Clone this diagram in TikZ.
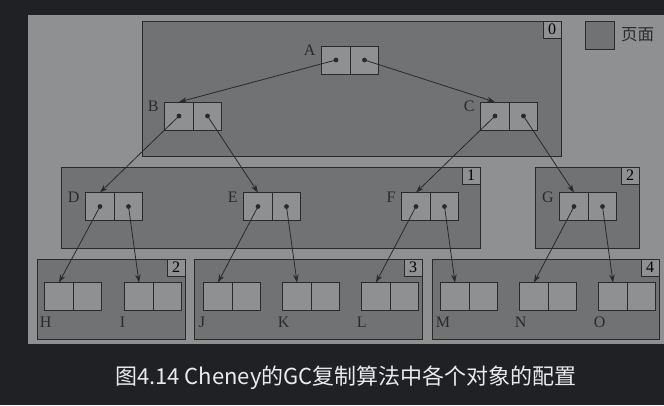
\documentclass[tikz,border=0pt]{standalone}
\usepackage{fontspec}
\setmainfont{Liberation Serif}
\newfontfamily\cjk{Noto Sans CJK SC}
\usetikzlibrary{positioning,arrows.meta}
\definecolor{screen}{HTML}{202124}
\definecolor{panel}{HTML}{8F9092}
\definecolor{pagefill}{HTML}{717273}
\definecolor{ink}{HTML}{2A2A2A}
\definecolor{captext}{HTML}{E8EAED}
\tikzset{
  cell/.style={draw=ink, fill=panel, line width=1pt, minimum width=28.5pt, minimum height=28pt, inner sep=0pt, outer sep=0pt},
  page/.style={draw=ink, fill=pagefill, line width=1pt},
  pagenum/.style={draw=ink, fill=panel, line width=1pt, minimum width=18pt, minimum height=17pt, inner sep=0pt, outer sep=0pt, font=\fontsize{16}{16}\selectfont},
  ptr/.style={ink, line width=0.8pt, -{Stealth[length=8pt,width=5.5pt]}},
  objlabel/.style={inner sep=0pt, text=ink, font=\fontsize{16}{16}\selectfont}
}

\begin{document}
\begin{tikzpicture}[x=1pt,y=-1pt]
	%Background
	\fill[screen] (0,0) rectangle (664,405);
	\fill[panel] (28,15) rectangle (664,344);
	\useasboundingbox (0,0) rectangle (664,405);

	%Pages
	\draw[page] (142,21) rectangle (561,156);
	\node[pagenum, anchor=north east] (page0) at (561,21) {0};
	\draw[page] (61,167) rectangle (480,248);
	\node[pagenum, anchor=north east] (page1) at (480,167) {1};
	\draw[page] (535,167) rectangle (639,248);
	\node[pagenum, anchor=north east] (page2a) at (639,167) {2};
	\draw[page] (37,259) rectangle (185,339);
	\node[pagenum, anchor=north east] (page2b) at (185,259) {2};
	\draw[page] (194,259) rectangle (422,339);
	\node[pagenum, anchor=north east] (page3) at (422,259) {3};
	\draw[page] (432,259) rectangle (659,339);
	\node[pagenum, anchor=north east] (page4) at (659,259) {4};

	%Legend
	\draw[page] (585,21) rectangle (614,49);
	\node[anchor=west, inner sep=0pt, text=ink, font=\cjk\fontsize{16.5}{16.5}\selectfont] (legend) at (621,35) {页面};

	%Objects
	\foreach \n/\x/\y in {A/336/60, B/179/116, C/495/116, D/100/206.5, E/258/206.5, F/416/206.5, G/574/206.5}
	{
		\node[cell] (\n-l) at (\x,\y) {};
		\node[cell, right=0pt of \n-l] (\n-r) {};
		\node[objlabel, anchor=base east] at ([xshift=-6pt, yshift=-9.5pt]\n-l.north west) {\n};
	}
	\foreach \n/\x in {H/59, I/139, J/218, K/297, L/376, M/455, N/534, O/613}
	{
		\node[cell] (\n-l) at (\x,296.5) {};
		\node[cell, right=0pt of \n-l] (\n-r) {};
		\node[objlabel, anchor=base west] at ([xshift=-5pt, yshift=-17pt]\n-l.south west) {\n};
	}

	%Pointers
	\draw[ptr] (A-l.center) -- (B-l.north);
	\draw[ptr] (A-r.center) -- (C-l.north);
	\draw[ptr] (B-l.center) -- (D-l.north);
	\draw[ptr] (B-r.center) -- (E-l.north);
	\draw[ptr] (C-l.center) -- (F-l.north);
	\draw[ptr] (C-r.center) -- (G-l.north);
	\draw[ptr] (D-l.center) -- (H-l.north);
	\draw[ptr] (D-r.center) -- (I-l.north);
	\draw[ptr] (E-l.center) -- (J-l.north);
	\draw[ptr] (E-r.center) -- (K-l.north);
	\draw[ptr] (F-l.center) -- (L-l.north);
	\draw[ptr] (F-r.center) -- (M-l.north);
	\draw[ptr] (G-l.center) -- (N-l.north);
	\draw[ptr] (G-r.center) -- (O-l.north);
	\foreach \n in {A,B,C,D,E,F,G}
	{
		\fill[ink] (\n-l.center) circle (2.4pt);
		\fill[ink] (\n-r.center) circle (2.4pt);
	}

	%Caption
	\node[text=captext, font=\cjk\fontsize{22}{22}\selectfont] (caption) at (346,378) {图4.14 Cheney的GC复制算法中各个对象的配置};
\end{tikzpicture}
\end{document}
